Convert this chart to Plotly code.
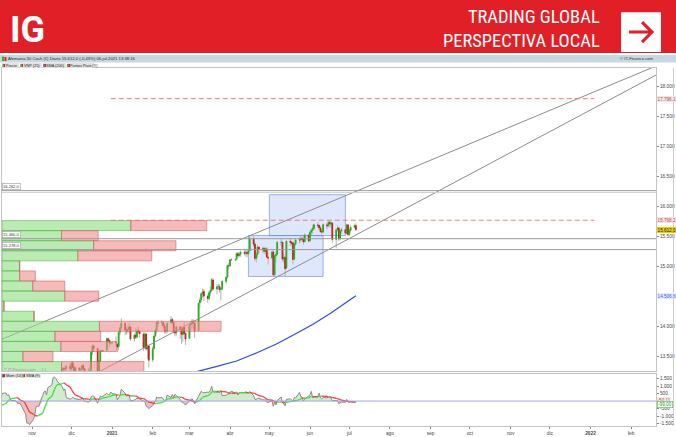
import numpy as np
import pandas as pd
import plotly.graph_objects as go

# ---------------- DATA (daily, business days from 2020-09-01) ----------------
open_ = [
    12945,13080,13250,13020,12850,13095,12960,13230,13200,13210,13190,13220,13250,13200,13100,12540,12600,12640,12600,12480,12870,12820,  # sep 20
    12760,12700,12700,12830,12880,12930,13040,13060,13140,13000,12980,12710,12900,12850,12730,12560,12550,12580,12180,12060,11570,11600,  # oct 20
    11560,11800,12100,12330,12560,12500,13090,13170,13210,13060,13080,13140,13130,13200,13090,13140,13130,13290,13290,13290,13330,  # nov 20
    13290,13390,13310,13260,13300,13270,13280,13340,13290,13120,13230,13270,13570,13670,13630,13250,13420,13590,13590,13600,13790,13760,13720,  # dic 20
    13720,13730,13700,13660,13900,13970,14050,13940,13930,13940,13990,13790,13850,13820,13930,13910,13870,13650,13870,13620,13670,  # ene 21
    13440,13630,13840,13930,14060,14060,14060,14010,13940,13920,14060,14110,14060,13900,13890,13990,13950,13860,13980,13880,  # feb 21
    13800,14020,14040,14080,14050,13930,14390,14440,14540,14580,14500,14460,14560,14600,14770,14620,14660,14660,14610,14620,14750,14820,15010,  # mar 21
    15010,15110,15110,15120,15210,15180,15200,15230,15220,15230,15210,15260,15460,15370,15130,15200,15320,15280,15300,15250,15290,15150,  # abr 21
    15140,15240,14860,15170,15200,15400,15400,15120,15150,14970,15420,15400,15390,15120,15370,15440,15440,15470,15450,15410,15520,  # may 21
    15430,15570,15600,15630,15690,15680,15640,15580,15570,15690,15680,15730,15700,15720,15450,15610,15640,15460,15590,15610,15550,15690,  # jun 21
    15530,15600,15650,15680,  # jul 21
]
high = [
    13110,13270,13460,13080,13120,13140,13250,13300,13260,13280,13250,13300,13270,13220,13120,12650,12700,12700,12650,12900,12900,12870,
    12840,12760,12850,12960,12960,13060,13100,13190,13160,13060,12990,12920,13000,12880,12750,12650,12690,12590,12250,12080,11690,11710,
    11860,12120,12440,12580,12600,13300,13230,13300,13220,13110,13190,13180,13240,13210,13180,13260,13320,13320,13330,13350,13380,
    13400,13420,13340,13330,13320,13310,13360,13370,13300,13300,13340,13580,13700,13690,13640,13440,13610,13600,13600,13810,13810,13780,13740,
    13730,13830,13720,13920,14000,14130,14060,13990,14000,14060,14000,13880,13960,13960,13990,13940,13890,13900,13880,13700,13690,
    13660,13850,13960,14070,14100,14100,14080,14050,13990,14060,14170,14140,14080,13940,14010,14000,13960,14000,14070,13890,
    14040,14080,14120,14110,14060,14400,14480,14560,14630,14620,14530,14590,14660,14800,14800,14700,14700,14700,14640,14760,14830,15030,15050,
    15120,15130,15130,15230,15240,15240,15260,15270,15270,15280,15290,15500,15500,15400,15230,15360,15330,15330,15320,15310,15320,15240,
    15260,15260,15190,15250,15420,15460,15400,15220,15160,15430,15470,15420,15420,15390,15470,15480,15500,15480,15500,15550,15530,
    15600,15630,15690,15710,15740,15700,15670,15620,15710,15720,15768,15760,15750,15730,15630,15680,15650,15620,15640,15620,15710,15700,
    15630,15680,15700,15720,
]
low = [
    12880,13040,13030,12790,12830,12950,12950,13160,13100,13150,13150,13200,13170,13050,12520,12480,12540,12550,12360,12470,12770,12700,
    12660,12560,12680,12800,12820,12900,12970,13030,12990,12920,12680,12700,12820,12690,12510,12420,12520,12160,11950,11540,11450,11450,
    11460,11780,11980,12310,12400,12480,13020,13150,13010,12980,13060,13060,13110,13030,13060,13080,13110,13220,13240,13250,13220,
    13260,13280,13200,13200,13200,13180,13250,13200,13070,13100,13180,13250,13520,13570,13010,13220,13400,13570,13580,13590,13720,13650,13690,
    13710,13670,13570,13600,13850,13950,13850,13860,13880,13900,13760,13740,13790,13790,13880,13810,13590,13620,13590,13450,13310,
    13400,13610,13820,13880,13990,14000,13980,13880,13870,13880,14040,14020,13880,13830,13840,13790,13700,13740,13860,13690,
    13790,13930,13960,13950,13800,13920,14310,14400,14480,14420,14390,14440,14510,14580,14590,14530,14610,14560,14430,14600,14700,14800,14950,
    14990,15090,15090,15100,15140,15150,15160,15180,15160,15150,15200,15250,15320,15090,15060,15150,15210,15230,15200,15210,15140,15030,
    15110,14820,14840,15060,15190,15330,15080,15060,14820,14960,15340,15340,15030,15100,15340,15380,15400,15410,15360,15400,15400,
    15400,15520,15540,15600,15640,15600,15560,15530,15560,15620,15650,15660,15640,15390,15300,15580,15420,15440,15540,15520,15540,15500,
    15500,15560,15630,15590,
]
close = [
    13087,13243,13057,12842,13100,12968,13237,13209,13203,13193,13218,13255,13208,13116,12542,12594,12642,12607,12469,12870,12826,12761,
    12731,12689,12828,12906,12928,13042,13051,13138,13018,13028,12703,12909,12854,12736,12558,12543,12645,12177,12064,11561,11598,11556,
    11789,12089,12324,12568,12480,13096,13163,13216,13053,13077,13139,13134,13202,13087,13137,13127,13292,13290,13286,13336,13291,
    13383,13313,13253,13299,13271,13278,13341,13296,13114,13223,13263,13566,13668,13631,13247,13418,13588,13590,13590,13791,13762,13719,13720,
    13720,13727,13652,13892,13968,14050,13937,13926,13940,13989,13788,13848,13816,13922,13907,13874,13644,13871,13621,13666,13433,
    13622,13835,13933,14060,14057,14060,14012,13933,13921,14050,14109,14065,13909,13887,13993,13950,13865,13976,13879,13786,
    14012,14040,14080,14057,13921,14381,14437,14541,14570,14502,14461,14558,14597,14776,14621,14657,14663,14611,14621,14749,14818,15009,15008,
    15107,15110,15110,15213,15177,15203,15234,15216,15234,15209,15255,15460,15368,15130,15196,15321,15280,15296,15250,15292,15155,15136,
    15237,14856,15171,15197,15400,15400,15120,15151,14960,15417,15397,15386,15114,15370,15438,15438,15465,15451,15407,15520,15421,
    15568,15603,15633,15693,15677,15640,15581,15571,15693,15674,15729,15711,15728,15448,15604,15636,15456,15589,15608,15554,15691,15531,
    15604,15650,15679,15612,
]
dates = pd.bdate_range("2020-09-01", periods=len(close))

# SMA (200)
sma200_dates = ["2021-02-22", "2021-03-08", "2021-03-22", "2021-04-06", "2021-04-22", "2021-05-06",
                "2021-05-20", "2021-06-03", "2021-06-17", "2021-07-01", "2021-07-06"]
sma200_values = [13150, 13250, 13330, 13420, 13560, 13700, 13860, 14030, 14220, 14430, 14506.6]

# Volume by price (VNP 25): bin centres, buy / sell volume (thousand lots)
vnp_levels = [15678, 15510, 15342, 15174, 15006, 14838, 14670, 14502, 14334, 14166, 13998, 13830, 13662, 13494, 13326]
vnp_up =     [19.7, 9.1, 14.0, 11.6, 2.7, 2.7, 4.7, 9.6, 0.3, 4.9, 14.9, 8.1, 9.0, 3.2, 9.1]
vnp_down =   [11.6, 5.6, 12.6, 11.3, 0.0, 2.4, 4.9, 5.2, 0.0, 0.0, 18.6, 7.0, 8.5, 4.6, 12.6]
vnp_bin = 168

# Yearly pivot points
pivot_levels = [16262.0, 15460.0, 15278.0]
pivot_labels = ["16.262,0", "15.460,0", "15.278,0"]

# Drawn resistance lines (dashed red)
resist_levels = [17796.1, 15768.2]
resist_labels = ["17.796,1", "15.768,2"]
resist_span = ["2020-12-31", "2022-01-04"]

# Trend channel lines
trend_a_dates, trend_a_prices = ["2020-10-09", "2022-02-20"], [13783, 18341]
trend_b_dates, trend_b_prices = ["2020-12-23", "2022-02-20"], [13250, 18190]

# Range boxes (x0, x1, y0, y1)
box_x0 = ["2021-04-15", "2021-05-01"]
box_x1 = ["2021-06-11", "2021-06-28"]
box_y0 = [14830, 15512]
box_y1 = [15512, 16195]

last_price_label = "15.612,0"
sma200_label = "14.506,6"

month_ticks = list(pd.date_range("2020-11-01", "2022-02-01", freq="MS"))
month_labels = ["nov", "dic", "<b>2021</b>", "feb", "mar", "abr", "may", "jun", "jul", "ago",
                "sep", "oct", "nov", "dic", "<b>2022</b>", "feb"]
price_ticks = [13500, 14000, 15000, 15500, 16000, 16500, 17000, 17500, 18000]
price_tick_labels = ["13.500", "14.000", "15.000", "15.500", "16.000", "16.500", "17.000", "17.500", "18.000"]
mom_ticks = [-1500, -1000, -500, 500, 1000, 1500]
mom_tick_labels = ["-1.500", "-1.000", "-500", "500", "1.000", "1.500"]

# ---------------- indicators ----------------
cs = pd.Series(close, index=dates, dtype=float)
mom = cs - cs.shift(14)
mom_sma = mom.rolling(9).mean()

# ---------------- layout helpers ----------------
W, H = 676, 437
ML, MR, MT, MB = 1, 19, 68, 10
PW, PH = W - ML - MR, H - MT - MB


def px2x(px):
    return (px - ML) / PW


def px2y(py):
    return (H - MB - py) / PH


FONT = "Liberation Sans, Arial, sans-serif"
fig = go.Figure()

# VNP horizontal bars (behind everything)
fig.add_trace(go.Bar(y=vnp_levels, x=vnp_up, base=[0] * len(vnp_up), orientation="h", width=vnp_bin,
                     marker=dict(color="rgba(140,222,128,0.6)", line=dict(color="rgba(80,175,70,0.55)", width=1)),
                     xaxis="x3", yaxis="y", hoverinfo="skip"))
fig.add_trace(go.Bar(y=vnp_levels, x=vnp_down, base=vnp_up, orientation="h", width=vnp_bin,
                     marker=dict(color="rgba(240,140,140,0.6)", line=dict(color="rgba(205,90,90,0.55)", width=1)),
                     xaxis="x3", yaxis="y", hoverinfo="skip"))

# trend lines
for tx, ty in [(trend_a_dates, trend_a_prices), (trend_b_dates, trend_b_prices)]:
    fig.add_trace(go.Scatter(x=tx, y=ty, mode="lines", line=dict(color="#8c8c8c", width=1),
                             xaxis="x", yaxis="y", hoverinfo="skip"))

# SMA 200
fig.add_trace(go.Scatter(x=sma200_dates, y=sma200_values, mode="lines",
                         line=dict(color="#2D4BE6", width=1.2), xaxis="x", yaxis="y"))

# candles: wicks (grey) then bodies (green / red)
fig.add_trace(go.Candlestick(x=dates, open=open_, high=high, low=low, close=close,
                             increasing=dict(line=dict(color="#b4b4b4", width=1), fillcolor="rgba(0,0,0,0)"),
                             decreasing=dict(line=dict(color="#b4b4b4", width=1), fillcolor="rgba(0,0,0,0)"),
                             whiskerwidth=0, xaxis="x", yaxis="y", hoverinfo="skip"))
body_hi = np.maximum(open_, close)
body_lo = np.minimum(open_, close)
fig.add_trace(go.Candlestick(x=dates, open=open_, high=body_hi, low=body_lo, close=close,
                             increasing=dict(line=dict(color="#18b418", width=1), fillcolor="#2ad42a"),
                             decreasing=dict(line=dict(color="#d01c1c", width=1), fillcolor="#e83232"),
                             whiskerwidth=0, xaxis="x", yaxis="y"))

# Momentum subplot
mom_pos = mom.clip(lower=0)
mom_neg = mom.clip(upper=0)
fig.add_trace(go.Scatter(x=dates, y=mom_pos, mode="lines", line=dict(width=0), fill="tozeroy",
                         fillcolor="rgba(150,215,140,0.45)", xaxis="x2", yaxis="y2", hoverinfo="skip"))
fig.add_trace(go.Scatter(x=dates, y=mom_neg, mode="lines", line=dict(width=0), fill="tozeroy",
                         fillcolor="rgba(225,130,130,0.5)", xaxis="x2", yaxis="y2", hoverinfo="skip"))
fig.add_trace(go.Scatter(x=dates, y=mom, mode="lines", line=dict(color="#8a8a8a", width=1),
                         xaxis="x2", yaxis="y2"))
ux, uy, dx, dy = [], [], [], []
sv = mom_sma.values
for i in range(1, len(sv)):
    if np.isnan(sv[i]) or np.isnan(sv[i - 1]):
        continue
    if sv[i] >= sv[i - 1]:
        ux += [dates[i - 1], dates[i], None]; uy += [sv[i - 1], sv[i], None]
    else:
        dx += [dates[i - 1], dates[i], None]; dy += [sv[i - 1], sv[i], None]
fig.add_trace(go.Scatter(x=ux, y=uy, mode="lines", line=dict(color="#3ee03e", width=1.3),
                         xaxis="x2", yaxis="y2", connectgaps=False))
fig.add_trace(go.Scatter(x=dx, y=dy, mode="lines", line=dict(color="#f23c3c", width=1.3),
                         xaxis="x2", yaxis="y2", connectgaps=False))

shapes = []
ann = []


def prect(x0, y0, x1, y1, fill, line=None, lw=0, layer="above"):
    shapes.append(dict(type="rect", xref="paper", yref="paper", x0=px2x(x0), x1=px2x(x1),
                       y0=px2y(y1), y1=px2y(y0), fillcolor=fill, layer=layer,
                       line=dict(color=line or fill, width=lw)))


def ptxt(x, y, s, size, color, xanchor="left", bold=False, family=FONT, bg=None, border=None, align="left"):
    ann.append(dict(xref="paper", yref="paper", x=px2x(x), y=px2y(y), text=("<b>%s</b>" % s) if bold else s,
                    showarrow=False, xanchor=xanchor, yanchor="middle", align=align,
                    font=dict(size=size, color=color, family=family),
                    bgcolor=bg, bordercolor=border, borderwidth=1 if border else 0, borderpad=0))


# header
prect(-3, -3, 680, 53, "#E01F26")
ptxt(9, 30, "IG", 36, "white", bold=True, family="Roboto, Liberation Sans, Arial")
ptxt(601, 28.5, "TRADING GLOBAL<br>PERSPECTIVA LOCAL", 18.5, "white", xanchor="right", align="right",
     family="Liberation Sans Narrow, Roboto Condensed, Roboto, Liberation Sans")
prect(622, 12, 662, 52, "white")
shapes.append(dict(type="path", xref="paper", yref="paper",
                   path="M %f,%f L %f,%f M %f,%f L %f,%f L %f,%f" % (
                       px2x(630), px2y(32), px2x(653), px2y(32),
                       px2x(643), px2y(22), px2x(653), px2y(32), px2x(643), px2y(42)),
                   line=dict(color="#E01F26", width=3)))

# title bar
prect(-3, 55, 680, 62.5, "#C7D8E1")
prect(1, 56.5, 3, 61, "#2ab42a")
prect(3.5, 57, 5.5, 61, "#d42020")
ptxt(7, 58.8, "Alemania 30 Cash (€) Diario 15.612,0 (-0,43%) 06-jul-2021 13:38:16", 4.2, "#222")
ptxt(655, 58.8, "© IT-Finance.com", 4.2, "#333", xanchor="right")

# legend row
leg = [(1, 18, "Precio", "#2ab42a", "#d42020"), (19, 41, "VNP (25)", "#2ab42a", "#d42020"),
       (42, 65, "SMA (200)", "#2D4BE6", "#d42020"), (66, 94, "Puntos Pivot (Y)", "#1a7a1a", "#d42020")]
for x0, x1, s, c1, c2 in leg:
    prect(x0, 63, x1, 68, "#E2E2E2")
    prect(x0 + 0.5, 64, x0 + 1.8, 67, c1)
    prect(x0 + 1.8, 64, x0 + 3.1, 67, c2)
    ptxt(x0 + 3.6, 65.6, s, 3.8, "#222")

# sub legend
for x0, x1, s, c1, c2 in [(1, 20, "Mom (14)", "#222", "#d42020"), (21, 40, "SMA (9)", "#2ab42a", "#d42020")]:
    prect(x0, 374, x1, 378.5, "#E2E2E2")
    prect(x0 + 0.5, 375, x0 + 1.8, 378, c1)
    prect(x0 + 1.8, 375, x0 + 3.1, 378, c2)
    ptxt(x0 + 3.6, 376.4, s, 3.8, "#222")

# right outer frame
shapes.append(dict(type="line", xref="paper", yref="paper", x0=px2x(674.5), x1=px2x(674.5),
                   y0=px2y(427), y1=px2y(68), line=dict(color="#c8c8c8", width=1)))

# pivot lines
for lv in pivot_levels:
    shapes.append(dict(type="line", xref="x domain", yref="y", x0=0, x1=1, y0=lv, y1=lv,
                       line=dict(color="#9a9a9a", width=1)))
shapes.append(dict(type="line", xref="x domain", yref="y", x0=0, x1=1, y0=pivot_levels[0] - 30,
                   y1=pivot_levels[0] - 30, line=dict(color="#d0d0d0", width=1)))
for lv, lab in zip(pivot_levels, pivot_labels):
    ann.append(dict(xref="paper", yref="y", x=px2x(1), y=lv, text=lab, showarrow=False, xanchor="left",
                    yanchor="bottom", yshift=1, font=dict(size=4, color="#333", family=FONT),
                    bgcolor="white", bordercolor="#9a9a9a", borderwidth=0.6, borderpad=0.5))

# resistance dashed lines
for lv in resist_levels:
    shapes.append(dict(type="line", xref="x", yref="y", x0=resist_span[0], x1=resist_span[1], y0=lv, y1=lv,
                       line=dict(color="#f07a7a", width=1, dash="5px,3px")))

# boxes
for a, b, c, d in zip(box_x0, box_x1, box_y0, box_y1):
    shapes.append(dict(type="rect", xref="x", yref="y", x0=a, x1=b, y0=c, y1=d, layer="below",
                       fillcolor="rgba(95,135,245,0.2)", line=dict(color="rgba(95,130,235,0.6)", width=1)))

# momentum zero line
shapes.append(dict(type="line", xref="x2 domain", yref="y2", x0=0, x1=1, y0=0, y1=0,
                   line=dict(color="#a4a4f2", width=1)))


def rlabel(yv, text, color, bg, yref="y", border=None):
    ann.append(dict(xref="paper", yref=yref, x=px2x(658), y=yv, text=text, showarrow=False, xanchor="left",
                    yanchor="middle", font=dict(size=4.6, color=color, family=FONT), bgcolor=bg,
                    bordercolor=border, borderwidth=0.6 if border else 0, borderpad=0.6))


rlabel(resist_levels[0], resist_labels[0], "#e04040", "#e9e9e9")
rlabel(resist_levels[1], resist_labels[1], "#e04040", "#e9e9e9")
rlabel(close[-1], last_price_label, "#222", "#f2cc00")
rlabel(sma200_values[-1], sma200_label, "#3355dd", "#e6ecff")


def fmt(v):
    s = "{:,.2f}".format(v)
    return s.replace(",", "X").replace(".", ",").replace("X", ".")


rlabel(float(mom_sma.iloc[-1]) + 150, fmt(float(mom_sma.iloc[-1])), "#e04040", "#eeeeee", yref="y2")
rlabel(float(mom.iloc[-1]) - 150, fmt(float(mom.iloc[-1])), "#1a9a1a", "#ffffff", yref="y2", border="#3ec43e")

# watermark
ptxt(3, 370, "© IT-Finance.com", 4, "#9a9a9a")

main_dom = [px2y(372), 1]
sub_dom = [0, px2y(375)]
xr = ["2020-10-09", "2022-02-20"]

fig.update_layout(
    width=W, height=H, margin=dict(l=ML, r=MR, t=MT, b=MB),
    paper_bgcolor="white", plot_bgcolor="white", showlegend=False, separators=",.",
    font=dict(family=FONT, size=5, color="#444"),
    shapes=shapes, annotations=ann, barmode="overlay", hovermode=False,
    xaxis=dict(domain=[0, 1], anchor="y", range=xr, type="date", showticklabels=False, ticks="",
               showgrid=False, zeroline=False, showline=True, mirror=True, linecolor="#c4c4c4",
               rangeslider=dict(visible=False)),
    yaxis=dict(domain=main_dom, anchor="x", side="right", range=[13250, 18308], tickvals=price_ticks,
               ticktext=price_tick_labels, ticks="outside", ticklen=2, tickcolor="#888",
               tickfont=dict(size=4.8, color="#444"), showgrid=False, zeroline=False,
               showline=True, mirror=True, linecolor="#c4c4c4"),
    xaxis2=dict(domain=[0, 1], anchor="y2", range=xr, type="date", matches="x", tickvals=month_ticks,
                ticktext=month_labels, ticks="outside", ticklen=2, tickcolor="#888",
                tickfont=dict(size=4.8, color="#444"), showgrid=False, zeroline=False,
                showline=True, mirror=True, linecolor="#c4c4c4", rangeslider=dict(visible=False)),
    yaxis2=dict(domain=sub_dom, anchor="x2", side="right", range=[-1667, 1800], tickvals=mom_ticks,
                ticktext=mom_tick_labels, ticks="outside", ticklen=2, tickcolor="#888",
                tickfont=dict(size=4.8, color="#444"), showgrid=False, zeroline=False,
                showline=True, mirror=True, linecolor="#c4c4c4"),
    xaxis3=dict(overlaying="x", anchor="y", range=[0, 100], visible=False),
)

fig.write_html("out.html", config={"displayModeBar": False},
               post_script="document.body.style.margin='0px';document.body.style.overflow='hidden';")
